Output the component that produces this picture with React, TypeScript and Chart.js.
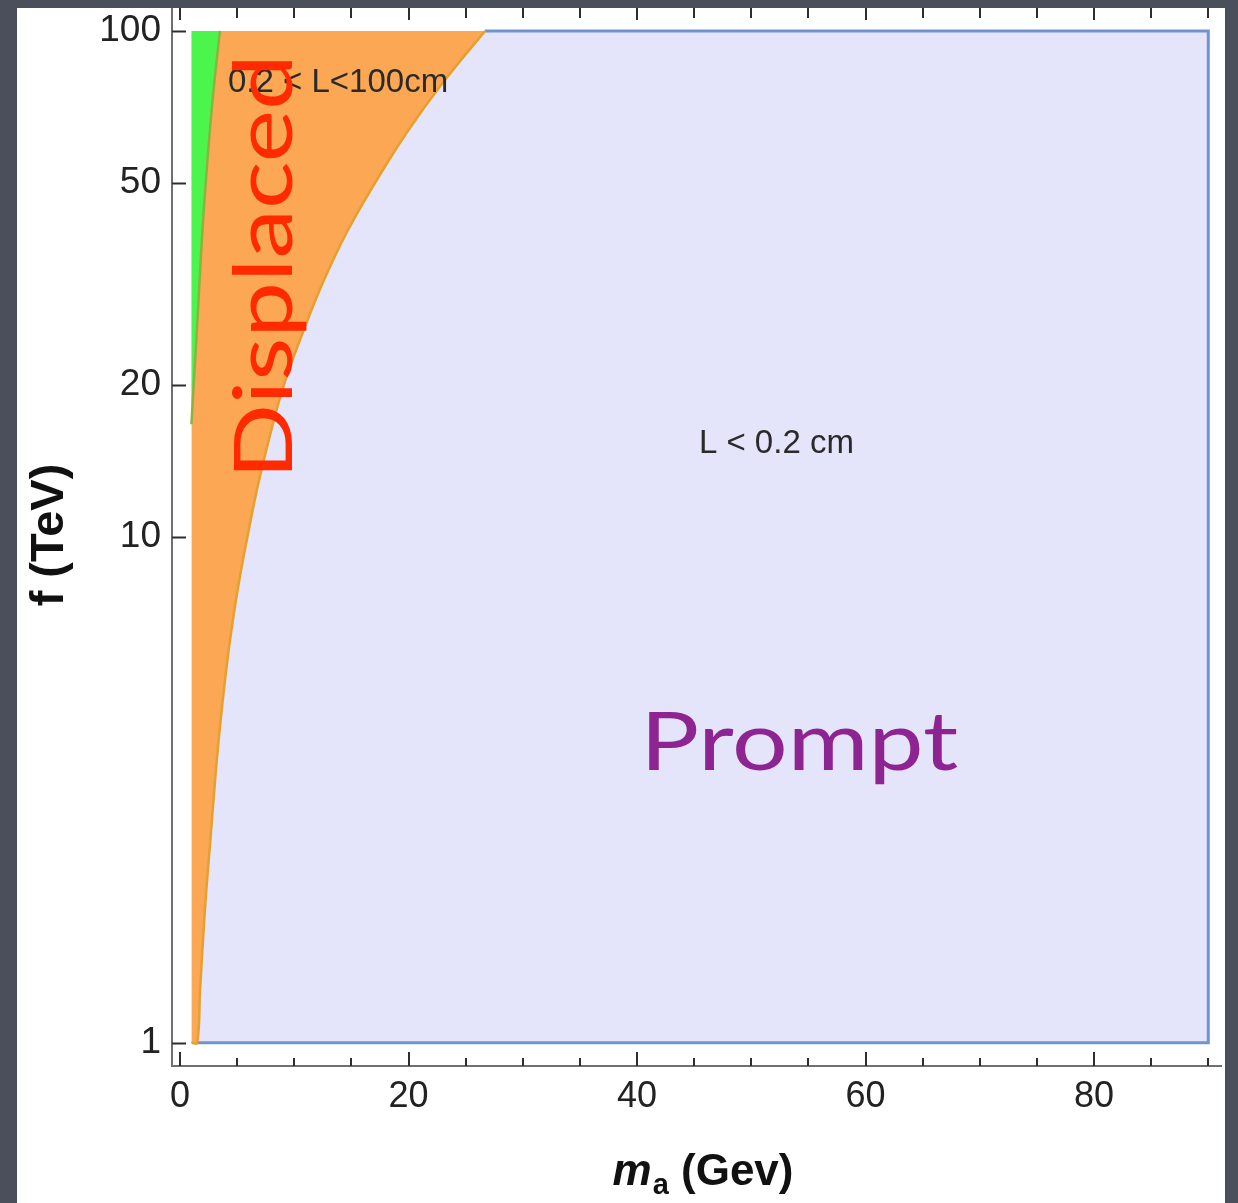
import React, { useEffect, useRef } from "react";
import { Chart, registerables } from "chart.js";

Chart.register(...registerables);

// ---- axis ranges and ticks ----
const xAxisRange = [-0.7, 91.2];
const yAxisRange = [0.9, 110];
const xMajorTicks = [0, 20, 40, 60, 80];
const xMinorTicks = [5, 10, 15, 25, 30, 35, 45, 50, 55, 65, 70, 75, 85, 90];
const yTicks = [1, 10, 20, 50, 100];

// ---- scanned region (m_a in GeV, f in TeV) ----
const regionMass = [1, 90];
const regionF = [1, 100];

// ---- boundary L = 0.2 cm (displaced / prompt) ----
const promptEdgeMass = [1.0, 1.5, 1.75, 2.0, 2.3, 2.65, 3.0, 3.4, 3.85, 4.4, 5.1, 5.9, 6.8, 7.85, 9.1, 10.65, 12.45, 14.6, 17.05, 19.85, 23.0, 26.7];
const promptEdgeF = [1.0, 1.0, 1.26, 1.58, 2.0, 2.5, 3.16, 4.0, 5.0, 6.3, 8.0, 10, 12.6, 15.8, 20, 25, 31.6, 40, 50, 63, 79, 100];

// ---- boundary L = 100 cm (long lived / displaced) ----
const longEdgeMass = [1.0, 1.2, 1.45, 1.7, 1.95, 2.25, 2.6, 3.0, 3.5];
const longEdgeF = [16.7, 20, 25, 31.6, 40, 50, 63, 79, 100];

// ---- labels ----
const xTitleMain = "m";
const xTitleSub = "a";
const xTitleRest = " (Gev)";
const yTitle = "f (TeV)";
const displacedRangeLabel = "0.2 < L<100cm";
const promptRangeLabel = "L < 0.2 cm";
const displacedWord = "Displaced";
const promptWord = "Prompt";

const FONT = "'Liberation Sans', Arial, Helvetica, sans-serif";
const HAND = "Lato, 'Noto Sans', sans-serif";

const toPoints = (xs: number[], ys: number[]) => xs.map((x, i) => ({ x, y: ys[i] }));

const decorPlugin = {
  id: "decor",
  beforeDraw(chart: any) {
    const { ctx, width, height } = chart;
    ctx.save();
    ctx.fillStyle = "#4a4f5b";
    ctx.fillRect(0, 0, width, height);
    ctx.fillStyle = "#ffffff";
    ctx.fillRect(17, 8, 1208, height - 8);
    ctx.restore();
  },
  afterDatasetsDraw(chart: any) {
    const { ctx } = chart;
    const xs = chart.scales.x;
    const ys = chart.scales.y;
    const px = (m: number) => xs.getPixelForValue(m);
    const py = (f: number) => ys.getPixelForValue(f);
    ctx.save();
    // printed region labels
    ctx.fillStyle = "#2a2a2a";
    ctx.font = `33px ${FONT}`;
    ctx.textBaseline = "alphabetic";
    ctx.textAlign = "left";
    ctx.fillText(displacedRangeLabel, px(4.2), py(75.7));
    ctx.textAlign = "center";
    ctx.fillText(promptRangeLabel, px(52.2), py(14.65));

    // handwritten words
    const fitted = (text: string, x: number, y: number, width: number, rot: number, color: string) => {
      ctx.save();
      ctx.font = `82px ${HAND}`;
      ctx.fillStyle = color;
      ctx.textAlign = "center";
      ctx.textBaseline = "alphabetic";
      const w = ctx.measureText(text).width;
      ctx.translate(x, y);
      ctx.rotate(rot);
      ctx.scale(width / w, 1);
      ctx.fillText(text, 0, 0);
      ctx.restore();
    };
    fitted(displacedWord, px(9.8), py(34.2), 425, -Math.PI / 2, "#ff2a00");
    fitted(promptWord, px(54.2), py(3.46), 318, 0, "#8e2392");
    ctx.restore();
  },
  afterDraw(chart: any) {
    const { ctx } = chart;
    const { left, right, top, bottom } = chart.chartArea;
    const xs = chart.scales.x;
    const ys = chart.scales.y;
    ctx.save();
    // frame lines (left and bottom)
    ctx.strokeStyle = "#707070";
    ctx.lineWidth = 2;
    ctx.beginPath();
    ctx.moveTo(left, top - 2);
    ctx.lineTo(left, bottom);
    ctx.lineTo(right, bottom);
    ctx.stroke();
    // inward ticks
    ctx.strokeStyle = "#2e2e2e";
    ctx.lineWidth = 2;
    ctx.beginPath();
    for (const v of yTicks) {
      const y = Math.round(ys.getPixelForValue(v)) + 0.5;
      ctx.moveTo(left, y);
      ctx.lineTo(left + 14, y);
    }
    for (const v of xMajorTicks) {
      const x = Math.round(xs.getPixelForValue(v));
      ctx.moveTo(x, bottom);
      ctx.lineTo(x, bottom - 14);
      ctx.moveTo(x, top - 2);
      ctx.lineTo(x, top + 10);
    }
    for (const v of xMinorTicks) {
      const x = Math.round(xs.getPixelForValue(v));
      ctx.moveTo(x, bottom);
      ctx.lineTo(x, bottom - 8);
      ctx.moveTo(x, top - 2);
      ctx.lineTo(x, top + 8);
    }
    ctx.stroke();

    // x title with subscript
    ctx.fillStyle = "#111";
    ctx.textBaseline = "alphabetic";
    ctx.textAlign = "left";
    const fMain = `italic bold 44px ${FONT}`;
    const fSub = `bold 29px ${FONT}`;
    const fRest = `bold 44px ${FONT}`;
    ctx.font = fMain;
    const wM = ctx.measureText(xTitleMain).width;
    ctx.font = fSub;
    const wA = ctx.measureText(xTitleSub).width;
    ctx.font = fRest;
    const wR = ctx.measureText(xTitleRest).width;
    const cx = (left + right) / 2 + 6;
    let x0 = cx - (wM + wA + 1 + wR) / 2;
    const base = 1185;
    ctx.font = fMain;
    ctx.fillText(xTitleMain, x0, base);
    x0 += wM + 1;
    ctx.font = fSub;
    ctx.fillText(xTitleSub, x0, base + 9);
    x0 += wA;
    ctx.font = fRest;
    ctx.fillText(xTitleRest, x0, base);

    // y title
    ctx.save();
    ctx.translate(63, (top + bottom) / 2 - 3);
    ctx.rotate(-Math.PI / 2);
    ctx.textAlign = "center";
    ctx.font = `bold 47px ${FONT}`;
    ctx.fillText(yTitle, 0, 0);
    ctx.restore();
    ctx.restore();
  },
};

export default function App() {
  const ref = useRef<HTMLCanvasElement>(null);
  useEffect(() => {
    document.body.style.margin = "0";
    const lastIdx = promptEdgeMass.length - 1;
    const chart = new Chart(ref.current!, {
      type: "line",
      data: {
        datasets: [
          {
            label: "L > 100 cm",
            data: toPoints(longEdgeMass, longEdgeF),
            backgroundColor: "#4cf54c",
            borderColor: "#8cb43c",
            borderWidth: 2.5,
            pointRadius: 0,
            tension: 0.4,
            fill: { value: regionF[1] },
          },
          {
            label: "0.2 < L < 100 cm",
            data: toPoints(promptEdgeMass, promptEdgeF),
            backgroundColor: "#fba753",
            borderColor: "#e5a02e",
            borderWidth: 2.5,
            pointRadius: 0,
            tension: 0.4,
            fill: { value: regionF[1] },
          },
          {
            label: "frame",
            data: [
              { x: promptEdgeMass[1], y: regionF[0] },
              { x: regionMass[1], y: regionF[0] },
              { x: regionMass[1], y: regionF[1] },
              { x: promptEdgeMass[lastIdx], y: regionF[1] },
            ],
            borderColor: "#7294cd",
            borderWidth: 3,
            pointRadius: 0,
            fill: false,
          },
          {
            label: "L < 0.2 cm",
            data: [
              { x: regionMass[0], y: regionF[1] },
              { x: regionMass[1], y: regionF[1] },
            ],
            backgroundColor: "#e4e4fb",
            borderWidth: 0,
            pointRadius: 0,
            fill: { value: regionF[0] },
          },
        ] as any,
      },
      options: {
        responsive: false,
        animation: false,
        events: [],
        layout: { padding: { left: 0, top: 10, right: 16, bottom: 0 } },
        plugins: { legend: { display: false }, tooltip: { enabled: false } },
        scales: {
          x: {
            type: "linear",
            min: xAxisRange[0],
            max: xAxisRange[1],
            bounds: "data",
            grid: { display: false, drawTicks: false },
            border: { display: false },
            afterBuildTicks: (s: any) => {
              s.ticks = xMajorTicks.map((v) => ({ value: v }));
            },
            afterFit: (s: any) => {
              s.height = 137;
              s.paddingLeft = 0;
              s.paddingRight = 0;
            },
            ticks: {
              padding: 9,
              autoSkip: false,
              maxRotation: 0,
              color: "#222",
              font: { family: FONT, size: 36 },
              callback: (v: any) => String(v),
            },
          },
          y: {
            type: "logarithmic",
            min: yAxisRange[0],
            max: yAxisRange[1],
            bounds: "data",
            grid: { display: false, drawTicks: false },
            border: { display: false },
            afterBuildTicks: (s: any) => {
              s.ticks = yTicks.map((v) => ({ value: v }));
            },
            afterFit: (s: any) => {
              s.width = 172;
              s.paddingTop = 0;
              s.paddingBottom = 0;
            },
            ticks: {
              padding: 11,
              autoSkip: false,
              color: "#222",
              font: { family: FONT, size: 37 },
              callback: (v: any) => String(v),
            },
          },
        },
      } as any,
      plugins: [decorPlugin as any],
    });
    return () => chart.destroy();
  }, []);
  return (
    <div style={{ position: "fixed", left: 0, top: 0, width: 1238, height: 1203 }}>
      <canvas ref={ref} width={1238} height={1203} style={{ display: "block" }} />
    </div>
  );
}
